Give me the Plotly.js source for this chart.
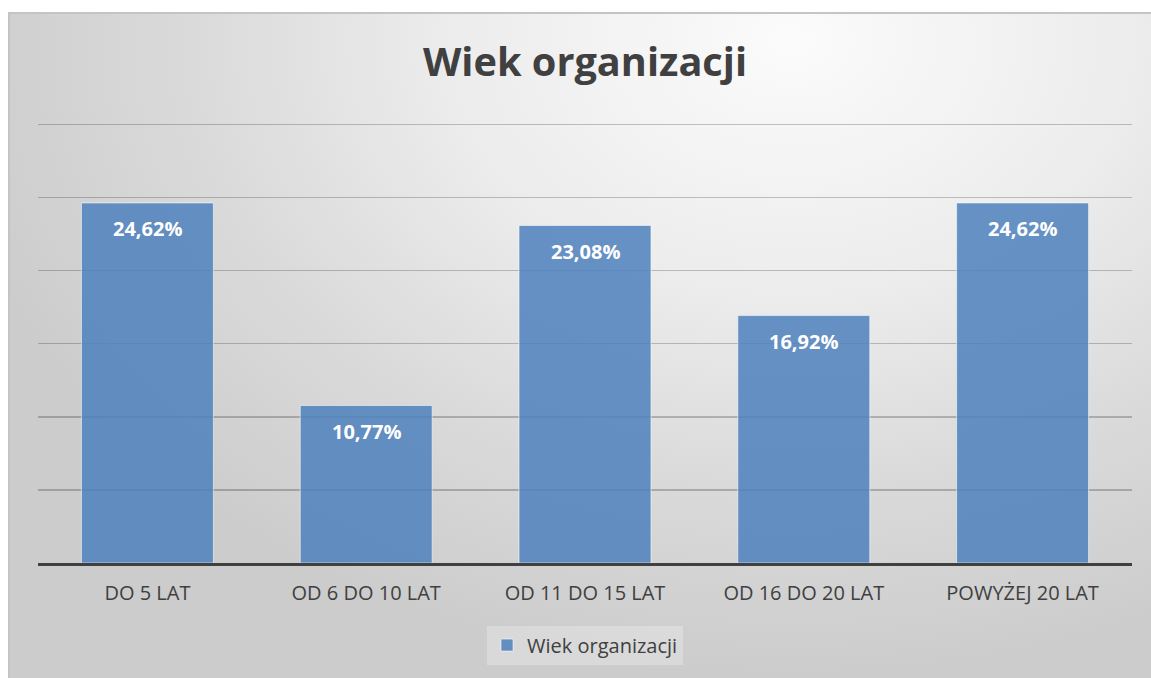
<!DOCTYPE html>
<html>
<head>
<meta charset="utf-8">
<script src="https://cdn.plot.ly/plotly-3.0.1.min.js"></script>
<style>
  html, body { margin: 0; padding: 0; width: 1151px; height: 678px; overflow: hidden; background: #ffffff; }
  #bg {
    position: absolute; left: 8px; top: 12px; width: 1150px; height: 670px;
    border-top: 2px solid #c4c4c4; border-left: 2px solid #c4c4c4;
    background: radial-gradient(ellipse 75% 95% at 68% 4%, #fbfbfb 0%, #ececec 40%, #dadada 70%, #cccccc 100%);
  }
  #chart { position: absolute; left: 0; top: 0; width: 1151px; height: 678px; }
</style>
</head>
<body>
<div id="bg"></div>
<div id="chart"></div>
<script>
const categories = ["DO 5 LAT", "OD 6 DO 10 LAT", "OD 11 DO 15 LAT", "OD 16 DO 20 LAT", "POWYŻEJ 20 LAT"];
const values = [24.62, 10.77, 23.08, 16.92, 24.62];
const labels = ["24,62%", "10,77%", "23,08%", "16,92%", "24,62%"];
const seriesName = "Wiek organizacji";
const chartTitle = "Wiek organizacji";

const fontFamily = "'Open Sans', 'Noto Sans', sans-serif";

const trace = {
  type: "bar",
  x: categories,
  y: values,
  name: seriesName,
  marker: {
    color: "rgba(79,129,189,0.86)",
    line: { color: "rgba(255,255,255,0.55)", width: 1 }
  },
  hoverinfo: "skip",
  showlegend: true
};

const annotations = categories.map((c, i) => ({
  x: c, y: values[i], xref: "x", yref: "y",
  text: "<b>" + labels[i] + "</b>",
  showarrow: false,
  yanchor: "middle",
  yshift: -26,
  font: { family: fontFamily, size: 20, color: "#ffffff" }
}));

const layout = {
  width: 1151, height: 678,
  paper_bgcolor: "rgba(0,0,0,0)",
  plot_bgcolor: "rgba(0,0,0,0)",
  margin: { l: 38, r: 19, t: 117, b: 115 },
  bargap: 0.397,
  title: {
    text: "<b>" + chartTitle + "</b>",
    font: { family: fontFamily, size: 39.7, color: "#404040" },
    xref: "paper", x: 0.5, xanchor: "center",
    yref: "container", y: 1 - 62 / 678, yanchor: "middle"
  },
  xaxis: {
    type: "category",
    showline: true, linecolor: "#404040", linewidth: 2.5,
    showgrid: false, ticks: "",
    ticklabelstandoff: 10,
    tickfont: { family: fontFamily, size: 20, color: "#404040" },
    fixedrange: true
  },
  yaxis: {
    range: [0, 30.5], dtick: 5, tick0: 0,
    showticklabels: false, ticks: "",
    showgrid: true, gridcolor: "rgba(0,0,0,0.22)", gridwidth: 1.5,
    zeroline: false, showline: false,
    fixedrange: true
  },
  showlegend: true,
  legend: {
    orientation: "h",
    x: 0.5, xanchor: "center",
    y: -0.184, yanchor: "middle",
    bgcolor: "rgba(255,255,255,0.25)",
    font: { family: fontFamily, size: 20, color: "#404040" },
    itemclick: false, itemdoubleclick: false
  },
  annotations: annotations
};

Plotly.newPlot("chart", [trace], layout, { displayModeBar: false, staticPlot: true });
</script>
</body>
</html>
